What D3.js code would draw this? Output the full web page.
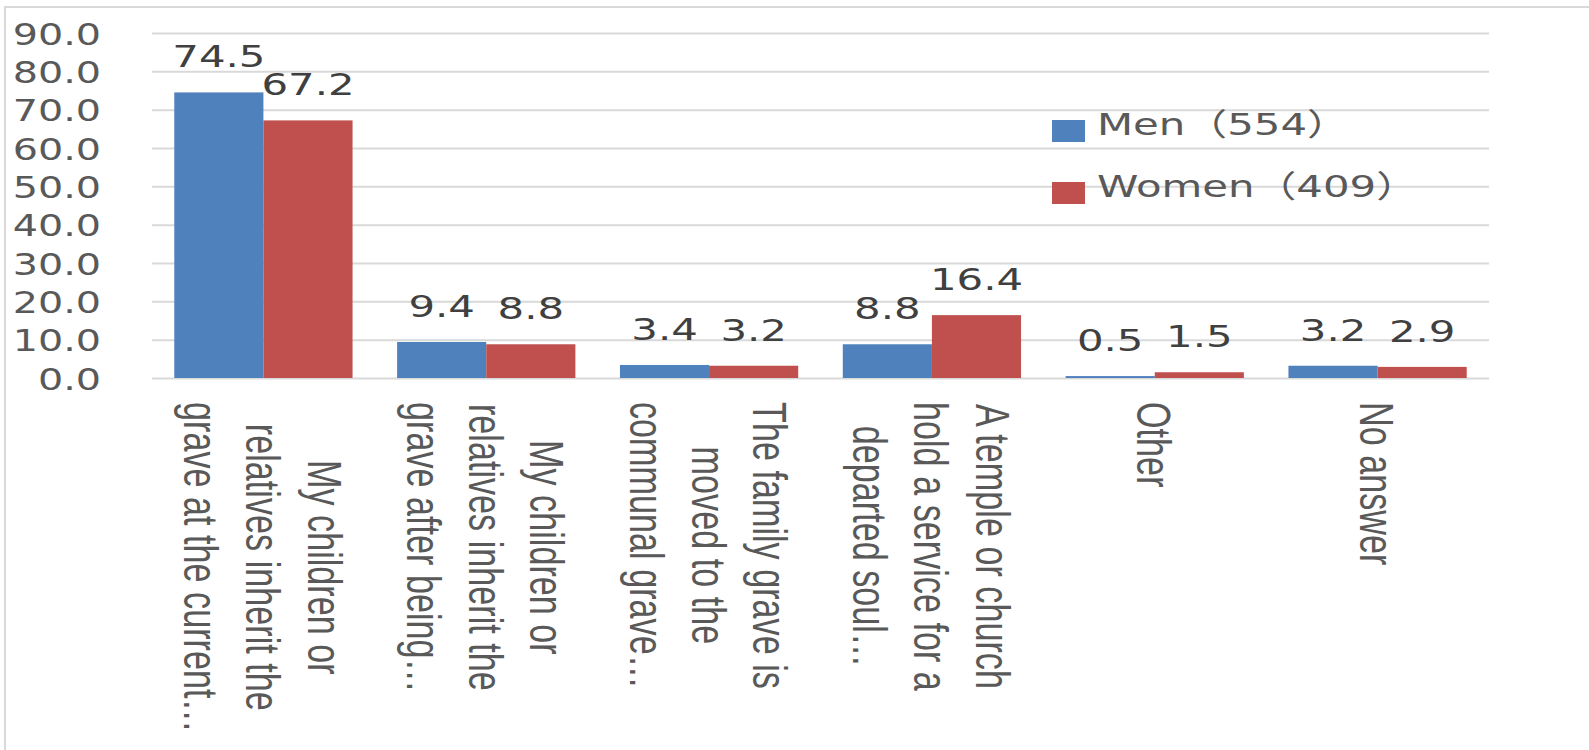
<!DOCTYPE html>
<html><head><meta charset="utf-8">
<script src="https://cdn.jsdelivr.net/npm/d3@7"></script>
<style>html,body{margin:0;padding:0;background:#fff;}svg{display:block;}</style>
</head><body>
<svg id="c" width="1589" height="750"></svg>
<script>
const categories = [
  ["My children or","relatives inherit the","grave at the current…"],
  ["My children or","relatives inherit the","grave after being…"],
  ["The family grave is","moved to the","communal grave…"],
  ["A temple or church","hold a service for a","departed soul…"],
  ["Other"],
  ["No answer"]
];
const seriesNames = ["Men（554）","Women（409）"];
const menValues = [74.5, 9.4, 3.4, 8.8, 0.5, 3.2];
const womenValues = [67.2, 8.8, 3.2, 16.4, 1.5, 2.9];
const yTicks = [0,10,20,30,40,50,60,70,80,90];
const colors = ["#4f81bd","#c0504d"];

(function(){
const svg = d3.select("#c");
const SX = 1.35, TSX = 1.28;
const pL = 152, pR = 1489, pT = 33, pB = 378;

// outer border
svg.append("rect").attr("x",5).attr("y",7).attr("width",1700).attr("height",900)
  .attr("fill","none").attr("stroke","#d9d9d9").attr("stroke-width",2);

const y = d3.scaleLinear().domain([0,90]).range([pB, pT]);
const x0 = d3.scaleBand().domain(d3.range(categories.length)).range([pL,pR]).paddingInner(0.2).paddingOuter(0.1);
const x1 = d3.scaleBand().domain([0,1]).range([0,x0.bandwidth()]);

// gridlines
const yAxis = d3.axisLeft(y).tickValues(yTicks).tickSize(-(pR-pL)).tickFormat(d=>d3.format(".1f")(d));
const ga = svg.append("g").attr("transform",`translate(${pL},0)`).call(yAxis);
ga.select(".domain").remove();
ga.selectAll(".tick line").attr("stroke","#d9d9d9").attr("stroke-width",2);
ga.selectAll(".tick text").remove();
ga.selectAll(".tick").append("text")
  .attr("transform",`translate(-51,0) scale(${TSX},1)`)
  .attr("text-anchor","end").attr("dy","0.36em")
  .attr("font-family","DejaVu Sans").attr("font-size",31).attr("fill","#595959")
  .text(d=>d3.format(".1f")(d));

// bars
const data = categories.map((c,i)=>({i, vals:[menValues[i], womenValues[i]]}));
const groups = svg.selectAll("g.grp").data(data).join("g").attr("class","grp")
  .attr("transform",d=>`translate(${x0(d.i)},0)`);
groups.selectAll("rect").data(d=>d.vals.map((v,k)=>({v,k}))).join("rect")
  .attr("x",d=>x1(d.k)).attr("width",x1.bandwidth())
  .attr("y",d=>y(d.v)).attr("height",d=>y(0)-y(d.v))
  .attr("fill",d=>colors[d.k]);
groups.selectAll("text.lbl").data(d=>d.vals.map((v,k)=>({v,k}))).join("text").attr("class","lbl")
  .attr("transform",d=>`translate(${x1(d.k)+x1.bandwidth()/2},${y(d.v)-25}) scale(${SX},1)`)
  .attr("text-anchor","middle").attr("font-family","DejaVu Sans").attr("font-size",31).attr("fill","#404040")
  .text(d=>d3.format(".1f")(d.v));

// category labels (rotated)
const F = 34.2, LSX = 1.43, LH = 1.26*F, CAP = 0.716*F, labTop = 402;
categories.forEach((lines,i)=>{
  const cx = x0(i)+x0.bandwidth()/2;
  const g = svg.append("g");
  const n = lines.length;
  const ts = lines.map((ln,j)=>{
    const yl = (j-(n-1)/2)*LH + CAP/2;
    return g.append("text").attr("font-family","Liberation Sans").attr("font-size",F)
      .attr("fill","#595959").attr("text-anchor","middle").text(ln).datum(yl);
  });
  const maxLen = d3.max(ts, t=>t.node().getComputedTextLength());
  ts.forEach(t=>{
    const yl = t.datum();
    t.attr("transform",`translate(${cx},${labTop+maxLen/2}) scale(${LSX},1) rotate(90) translate(0,${yl})`);
  });
});

// legend
const leg = svg.append("g");
const legY = [120, 182];
const legBase = [135, 197];
seriesNames.forEach((s,k)=>{
  leg.append("rect").attr("x",1052).attr("y",legY[k]).attr("width",33).attr("height",22).attr("fill",colors[k]);
  const t = leg.append("text").attr("transform",`translate(1097,${legBase[k]}) scale(${SX},1)`)
    .attr("font-family","DejaVu Sans").attr("font-size",31).attr("fill","#595959");
  s.split(/([（）])/).filter(p=>p.length).forEach(p=>{
    const ts = t.append("tspan").text(p);
    if (p==="（"||p==="）") ts.attr("font-family","Noto Sans CJK JP");
  });
});
})();
</script>
</body></html>
